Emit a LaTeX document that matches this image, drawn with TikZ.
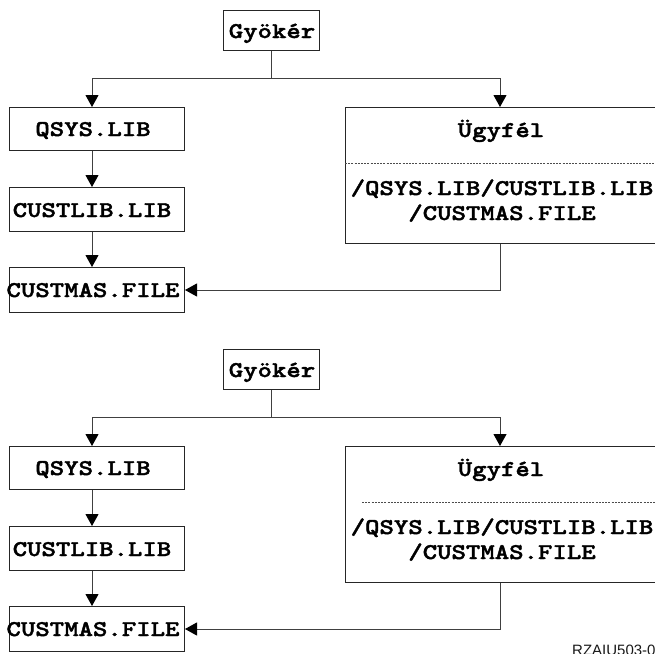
\documentclass[tikz,border=0pt]{standalone}
\usepackage{fontspec}
\setsansfont{Liberation Sans}
% slab-serif typewriter face, widened and thickened to Courier-bold proportions
\newfontfamily\boxfont{lmmonolt10-bold.otf}[FakeStretch=1.22, FakeBold=1.8]
\usetikzlibrary{arrows.meta}
\tikzset{
  box/.style={draw=black!85, line width=1pt, inner sep=0pt, anchor=north west},
  lbl/.style={font=\boxfont\fontsize{22.5}{26}\selectfont, anchor=base, inner sep=0pt},
  wire/.style={draw=black!75, line width=1pt},
  arr/.style={wire, -{Triangle[width=13pt,length=12pt,color=black]}},
  sep/.style={draw=black!70, line width=0.8pt, dash pattern=on 2pt off 1.2pt},
  tag/.style={font=\sffamily\fontsize{15}{17}\selectfont, anchor=base west, inner sep=0pt, text=black!90},
}
\begin{document}
\begin{tikzpicture}[x=1pt, y=-1pt]
  \useasboundingbox (0,0) rectangle (655,653);
  \clip (0,0) rectangle (655,653);
  \fill[white] (0,0) rectangle (655,653);

  % two identical trees; the lower one has a shorter separator line
  \foreach \dy/\i/\dx in {0/a/345, 339/b/362} {
    \begin{scope}[yshift=-\dy pt]
      % boxes
      \node[box, minimum width=96pt,  minimum height=40pt]  (root\i)    at (223,10)  {};
      \node[box, minimum width=175pt, minimum height=43pt]  (qsys\i)    at (9,107)   {};
      \node[box, minimum width=175pt, minimum height=44pt]  (custlib\i) at (9,187)   {};
      \node[box, minimum width=175pt, minimum height=45pt]  (custmas\i) at (9,267)   {};
      \node[box, minimum width=315pt, minimum height=136pt] (client\i)  at (345,107) {};

      % box texts
      \node[lbl] (rootT\i)    at (272,38)  {Gyökér};
      \node[lbl] (qsysT\i)    at (93,136)  {QSYS.LIB};
      \node[lbl] (custlibT\i) at (92,217)  {CUSTLIB.LIB};
      \node[lbl] (custmasT\i) at (93,297)  {CUSTMAS.FILE};
      \node[lbl] (clientT\i)  at (501,137) {Ügyfél};
      \node[lbl] (pathA\i)    at (502,195) {/QSYS.LIB/CUSTLIB.LIB};
      \node[lbl] (pathB\i)    at (502,220) {/CUSTMAS.FILE};

      % separator inside the client box
      \coordinate (sepL\i) at (\dx,163);
      \draw[sep] (sepL\i) -- (sepL\i -| client\i.east);

      % connectors
      \coordinate (busL\i) at (92,78);
      \coordinate (busR\i) at (500,78);
      \draw[wire] (root\i.south) -- (root\i.south |- busL\i);
      \draw[wire] (busL\i) -- (busR\i);
      \draw[arr] (busL\i) -- (busL\i |- qsys\i.north);
      \draw[arr] (busR\i) -- (busR\i |- client\i.north);
      \draw[arr] (busL\i |- qsys\i.south) -- (busL\i |- custlib\i.north);
      \draw[arr] (busL\i |- custlib\i.south) -- (busL\i |- custmas\i.north);
      \draw[arr] (busR\i |- client\i.south) |- (custmas\i.east);
    \end{scope}
  }

  \node[tag] (figid) at (572,655) {RZAIU503-0};
\end{tikzpicture}
\end{document}
